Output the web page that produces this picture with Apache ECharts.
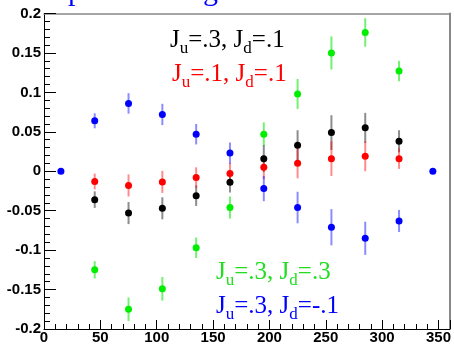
<!DOCTYPE html>
<html><head><meta charset="utf-8">
<script src="https://cdn.jsdelivr.net/npm/echarts@6/dist/echarts.min.js"></script>
<style>html,body{margin:0;padding:0;background:#fff}#c{width:454px;height:345px}</style>
</head><body><div id="c"></div>
<script>
// x positions (deg)
const xAll = [15, 45, 75, 105, 135, 165, 195, 225, 255, 285, 315, 345];
const xInner = [45, 75, 105, 135, 165, 195, 225, 255, 285, 315];
// Ju=.3, Jd=-.1 (blue)
const blueVals = [0, 0.064, 0.086, 0.072, 0.047, 0.023, -0.022, -0.046, -0.071, -0.085, -0.063, 0];
const blueErrs = [0, 0.0095, 0.013, 0.0135, 0.013, 0.0135, 0.016, 0.02, 0.023, 0.021, 0.014, 0];
// Ju=.3, Jd=.1 (black)
const blackVals = [-0.036, -0.053, -0.047, -0.031, -0.014, 0.016, 0.033, 0.049, 0.055, 0.038];
const blackErrs = [0.0105, 0.014, 0.014, 0.013, 0.013, 0.017, 0.019, 0.022, 0.019, 0.014];
// Ju=.1, Jd=.1 (red)
const redVals = [-0.013, -0.018, -0.0135, -0.008, -0.003, 0.005, 0.010, 0.016, 0.019, 0.016];
const redErrs = [0.01, 0.014, 0.014, 0.013, 0.0135, 0.015, 0.019, 0.022, 0.019, 0.013];
// Ju=.3, Jd=.3 (green)
const greenVals = [-0.125, -0.175, -0.149, -0.097, -0.046, 0.047, 0.098, 0.150, 0.176, 0.127];
const greenErrs = [0.011, 0.015, 0.015, 0.013, 0.014, 0.015, 0.019, 0.021, 0.018, 0.013];
// axis ticks
const xTicks = [0, 50, 100, 150, 200, 250, 300, 350];
const yTicks = [-0.2, -0.15, -0.1, -0.05, 0, 0.05, 0.1, 0.15, 0.2];

const chart = echarts.init(document.getElementById('c'), null, {renderer: 'canvas'});
const pts = (xs, ys) => xs.map((x, i) => [x, ys[i]]);
const errs = (xs, ys, es) => xs.map((x, i) => [x, ys[i], es[i]]);
function errSeries(data, color) {
  return {
    type: 'custom', data: data, z: 2, silent: true,
    encode: {x: 0, y: 1},
    renderItem: function (params, api) {
      const x = api.value(0), y = api.value(1), e = api.value(2);
      if (!e) return null;
      const p1 = api.coord([x, y - e]), p2 = api.coord([x, y + e]);
      return {type: 'line', shape: {x1: p1[0], y1: p1[1], x2: p2[0], y2: p2[1]},
        style: {stroke: color, lineWidth: 2}};
    }
  };
}
function ptSeries(data, color, z) {
  return {type: 'scatter', data: data, symbol: 'circle', symbolSize: 7, z: z,
    itemStyle: {color: color, opacity: 1}, silent: true};
}
const lblFont = {fontFamily: 'Liberation Sans', fontWeight: 'bold', fontSize: 15, color: '#000'};
function legendText(left, top, color, ju, jd) {
  return {
    type: 'text', left: left, top: top, z: 10,
    style: {
      text: '{n|J}{s|u}{n|=' + ju + ', J}{s|d}{n|=' + jd + '}',
      rich: {
        n: {fontFamily: 'Liberation Serif', fontSize: 25, lineHeight: 25, verticalAlign: 'top', fill: color},
        s: {fontFamily: 'Liberation Serif', fontSize: 17, lineHeight: 17, verticalAlign: 'top', padding: [12, 0, 0, 0], fill: color}
      }
    }
  };
}
const option = {
  animation: false,
  backgroundColor: '#fff',
  grid: {left: 44, right: 2, top: 13.5, bottom: 15.5, containLabel: false},
  xAxis: [{
    type: 'value', min: 0, max: 360, interval: 50, position: 'bottom',
    axisLine: {show: true, onZero: false, lineStyle: {color: '#000', width: 1}},
    axisTick: {show: true, inside: true, length: 9, lineStyle: {color: '#000'}},
    minorTick: {show: true, splitNumber: 5, length: 5, lineStyle: {color: '#000'}},
    splitLine: {show: false},
    axisLabel: Object.assign({margin: 1, showMaxLabel: false,
      formatter: v => xTicks.indexOf(v) >= 0 ? String(v) : ''}, lblFont)
  }, {
    type: 'value', min: 0, max: 360, position: 'top',
    axisLine: {show: true, onZero: false, lineStyle: {color: '#888', width: 1.5}},
    axisTick: {show: false}, axisLabel: {show: false}, splitLine: {show: false}
  }],
  yAxis: [{
    type: 'value', min: -0.2, max: 0.2, interval: 0.05, position: 'left',
    axisLine: {show: true, onZero: false, lineStyle: {color: '#000', width: 1}},
    axisTick: {show: true, inside: true, length: 12, lineStyle: {color: '#000'}},
    minorTick: {show: true, splitNumber: 5, length: 6, lineStyle: {color: '#000'}},
    splitLine: {show: false},
    axisLabel: Object.assign({margin: 3,
      formatter: v => { const t = yTicks.find(k => Math.abs(k - v) < 1e-9); return t === undefined ? '' : String(t); }}, lblFont)
  }, {
    type: 'value', min: -0.2, max: 0.2, position: 'right',
    axisLine: {show: true, onZero: false, lineStyle: {color: '#888', width: 2}},
    axisTick: {show: false}, axisLabel: {show: false}, splitLine: {show: false}
  }],
  series: [
    errSeries(errs(xInner, greenVals, greenErrs), 'rgba(0,230,0,0.55)'),
    errSeries(errs(xInner, blackVals, blackErrs), 'rgba(0,0,0,0.45)'),
    errSeries(errs(xInner, redVals, redErrs), 'rgba(255,0,0,0.45)'),
    errSeries(errs(xAll, blueVals, blueErrs), 'rgba(0,0,255,0.45)'),
    ptSeries(pts(xInner, greenVals), '#00ee00', 5),
    ptSeries(pts(xInner, blackVals), '#000000', 5),
    ptSeries(pts(xInner, redVals), '#ff0000', 5),
    ptSeries(pts(xAll, blueVals), '#0000ff', 5)
  ],
  graphic: [
    legendText(170, 28, '#000', '.3', '.1'),
    legendText(172, 62, '#ff0000', '.1', '.1'),
    legendText(216, 260, '#22dd22', '.3', '.3'),
    legendText(216, 294, '#0000ff', '.3', '-.1'),
    {type: 'text', x: 68, y: 7, z: 10, style: {text: 'p', fontFamily: 'Liberation Serif', fontSize: 30, fill: '#0000ff', verticalAlign: 'bottom'}},
    {type: 'text', x: 203, y: 7, z: 10, style: {text: 'g', fontFamily: 'Liberation Serif', fontSize: 30, fill: '#0000ff', verticalAlign: 'bottom'}}
  ]
};
chart.setOption(option);
</script></body></html>
